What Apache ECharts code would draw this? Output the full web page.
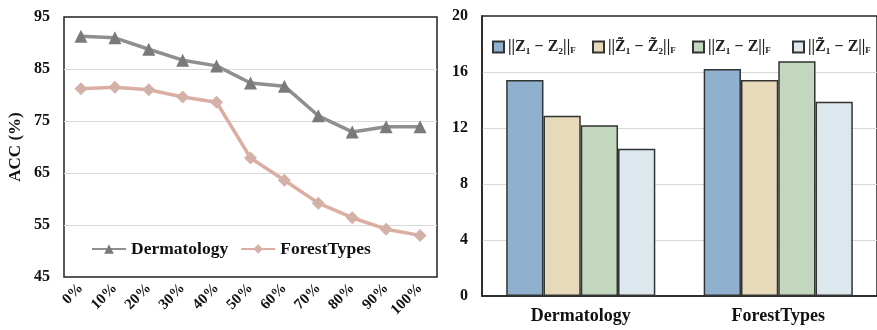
<!DOCTYPE html>
<html><head><meta charset="utf-8">
<script src="https://cdn.jsdelivr.net/npm/echarts@6/dist/echarts.min.js"></script>
<style>html,body{margin:0;padding:0;background:#fff}#c{width:877px;height:330px}</style>
</head><body><div id="c"></div>
<script>
const ratios = ['0%','10%','20%','30%','40%','50%','60%','70%','80%','90%','100%'];
const dermatology = [91.3, 91.0, 88.8, 86.7, 85.6, 82.3, 81.7, 76.0, 72.9, 73.9, 73.9];
const forestTypes = [81.2, 81.5, 81.0, 79.6, 78.6, 67.9, 63.6, 59.2, 56.4, 54.2, 53.0];
const datasets = ['Dermatology', 'ForestTypes'];
const normZ1Z2 = [15.43, 16.21];
const normZt1Zt2 = [12.88, 15.43];
const normZ1Z = [12.19, 16.76];
const normZt1Z = [10.52, 13.88];
const leftTicks = [45, 55, 65, 75, 85, 95];
const rightTicks = [0, 4, 8, 12, 16, 20];

const serif = '"Liberation Serif", "DejaVu Serif", serif';
const legendText = {
  n1: '||Z₁ − Z₂||{s|F}',
  n2: '||Z̃₁ − Z̃₂||{s|F}',
  n3: '||Z₁ − Z||{s|F}',
  n4: '||Z̃₁ − Z||{s|F}'
};
const barLegend = (name, left) => ({
  data: [{name: name, icon: 'rect'}], left: left, top: 34, itemWidth: 11, itemHeight: 11,
  formatter: n => legendText[n],
  textStyle: {fontFamily: serif, fontWeight: 'bold', fontSize: 16, color: '#222', padding: [0,0,0,-1],
    rich: {s: {fontFamily: serif, fontWeight: 'bold', fontSize: 9, color: '#222', padding: [7,0,0,0]}}}
});
const chart = echarts.init(document.getElementById('c'));
chart.setOption({
  animation: false,
  backgroundColor: '#fff',
  grid: [
    {left: 64, right: 440, top: 17, bottom: 53, show: true, borderColor: '#222', borderWidth: 1.5, backgroundColor: 'transparent'},
    {left: 482, right: -1, top: 16, bottom: 34, show: true, borderColor: '#222', borderWidth: 1.5, backgroundColor: 'transparent'}
  ],
  legend: [
    {data: ['Dermatology', 'ForestTypes'], left: 86, top: 235, itemWidth: 34, itemHeight: 12, itemGap: 12,
     textStyle: {fontFamily: serif, fontWeight: 'bold', fontSize: 17.5, color: '#111'}},
    barLegend('n1', 487), barLegend('n2', 587), barLegend('n3', 687), barLegend('n4', 787)
  ],
  xAxis: [
    {gridIndex: 0, type: 'category', data: ratios, boundaryGap: true,
     axisLine: {show: false}, axisTick: {show: false},
     axisLabel: {rotate: 45, fontFamily: serif, fontWeight: 'bold', fontSize: 15, color: '#111', margin: 9}},
    {gridIndex: 1, type: 'category', data: datasets,
     axisLine: {show: true, lineStyle: {color: '#222', width: 1.5}}, axisTick: {show: false},
     axisLabel: {fontFamily: serif, fontWeight: 'bold', fontSize: 18, color: '#111', margin: 11}}
  ],
  yAxis: [
    {gridIndex: 0, type: 'value', min: leftTicks[0], max: leftTicks[leftTicks.length-1], interval: 10,
     name: 'ACC (%)', nameLocation: 'middle', nameGap: 40, nameRotate: 90,
     nameTextStyle: {fontFamily: serif, fontWeight: 'bold', fontSize: 17, color: '#111'},
     axisLine: {show: false}, axisTick: {show: false},
     axisLabel: {fontFamily: serif, fontWeight: 'bold', fontSize: 16, color: '#111', margin: 14},
     splitLine: {show: true, showMinLine: false, showMaxLine: false, lineStyle: {color: '#d9d9d9', width: 1}}},
    {gridIndex: 1, type: 'value', min: rightTicks[0], max: rightTicks[rightTicks.length-1], interval: 4,
     axisLine: {show: true, lineStyle: {color: '#222', width: 1.5}}, axisTick: {show: false},
     axisLabel: {fontFamily: serif, fontWeight: 'bold', fontSize: 16, color: '#111', margin: 14},
     splitLine: {show: true, showMinLine: false, showMaxLine: false, lineStyle: {color: '#d9d9d9', width: 1}}}
  ],
  series: [
    {name: 'Dermatology', type: 'line', xAxisIndex: 0, yAxisIndex: 0, data: dermatology,
     symbol: 'triangle', symbolSize: 13, lineStyle: {color: '#8f8f8f', width: 3.5},
     itemStyle: {color: '#7a7a7a'}},
    {name: 'ForestTypes', type: 'line', xAxisIndex: 0, yAxisIndex: 0, data: forestTypes,
     symbol: 'diamond', symbolSize: 13, lineStyle: {color: '#dcaea3', width: 3.5},
     itemStyle: {color: '#d3b1a8'}},
    {name: 'n1', type: 'bar', xAxisIndex: 1, yAxisIndex: 1, data: normZ1Z2, barCategoryGap: '24.5%', barGap: '0%',
     itemStyle: {color: '#8fb1cf', borderColor: '#333', borderWidth: 1.5}},
    {name: 'n2', type: 'bar', xAxisIndex: 1, yAxisIndex: 1, data: normZt1Zt2, barGap: '0%',
     itemStyle: {color: '#e6dabb', borderColor: '#333', borderWidth: 1.5}},
    {name: 'n3', type: 'bar', xAxisIndex: 1, yAxisIndex: 1, data: normZ1Z, barGap: '0%',
     itemStyle: {color: '#c2d7bd', borderColor: '#333', borderWidth: 1.5}},
    {name: 'n4', type: 'bar', xAxisIndex: 1, yAxisIndex: 1, data: normZt1Z, barGap: '0%',
     itemStyle: {color: '#dde8ee', borderColor: '#333', borderWidth: 1.5}}
  ]
});
</script></body></html>
